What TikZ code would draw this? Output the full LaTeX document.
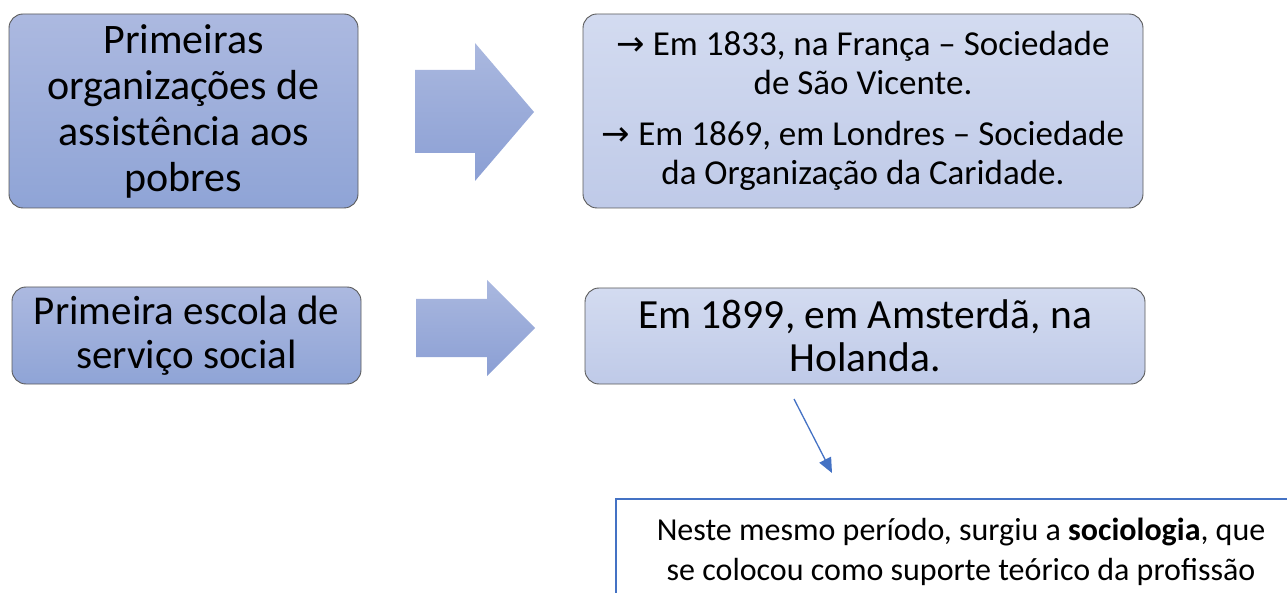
\documentclass[tikz,border=0pt]{standalone}
\usepackage{fontspec}
\setmainfont{Carlito}
\newfontfamily\symf{DejaVu Sans}
\usetikzlibrary{arrows.meta}
\definecolor{darkTop}{RGB}{172,185,224}
\definecolor{darkBot}{RGB}{143,164,214}
\definecolor{lightTop}{RGB}{211,219,240}
\definecolor{lightBot}{RGB}{191,202,232}
\definecolor{arrTop}{RGB}{170,184,223}
\definecolor{arrBot}{RGB}{139,159,212}
\definecolor{boxLine}{RGB}{90,90,90}
\definecolor{accent}{RGB}{68,114,196}
\tikzset{
  darkbox/.style={draw=boxLine, line width=0.9pt, rounded corners=14pt, top color=darkTop, bottom color=darkBot, align=center, inner sep=0pt},
  lightbox/.style={draw=boxLine, line width=0.9pt, rounded corners=14pt, top color=lightTop, bottom color=lightBot, align=center, inner sep=0pt},
  blockarrow/.style={top color=arrTop, bottom color=arrBot, draw=none},
  notebox/.style={draw=accent, line width=2.8pt, fill=white, align=center, inner sep=0pt},
  thinarrow/.style={draw=accent, line width=1.3pt, -{Triangle[length=15pt,width=13pt]}}
}
\newcommand{\arr}{{\symf\fontsize{34pt}{34pt}\selectfont →}}
\begin{document}
\begin{tikzpicture}[x=1pt,y=-1pt]
\useasboundingbox (0,0) rectangle (1287,593);
\clip (0,0) rectangle (1287,593);

\node[darkbox, minimum width=349pt, minimum height=194pt, font=\fontsize{42pt}{46pt}\selectfont] (b1) at (183.5,111)
  {Primeiras\\organizações de\\assistência aos\\pobres};

\path[blockarrow] (415,70) -- (475,70) -- (475,43) -- (534,112) -- (475,181) -- (475,153) -- (415,153) -- cycle;

\node[lightbox, minimum width=560pt, minimum height=194pt, font=\fontsize{35pt}{39pt}\selectfont] (b2) at (863,111)
  {\arr\ Em 1833, na França – Sociedade\\de São Vicente.\\[12pt]\arr\ Em 1869, em Londres – Sociedade\\da Organização da Caridade.};

\node[darkbox, minimum width=349pt, minimum height=97pt, font=\fontsize{41pt}{44pt}\selectfont] (b3) at (186.5,335.5)
  {Primeira escola de\\serviço social};

\path[blockarrow] (416,299) -- (487,299) -- (487,280) -- (535,328) -- (487,376) -- (487,357) -- (416,357) -- cycle;

\node[lightbox, minimum width=560pt, minimum height=96pt, font=\fontsize{41.5pt}{43pt}\selectfont] (b4) at (865,336)
  {Em 1899, em Amsterdã, na\\Holanda.};

\node[notebox, minimum width=690pt, minimum height=106pt, font=\fontsize{32pt}{40pt}\selectfont] (b5) at (961,552)
  {Neste mesmo período, surgiu a \textbf{sociologia}, que\\se colocou como suporte teórico da profissão};

\coordinate (c1) at (794,399);
\coordinate (c2) at (832,473);
\draw[thinarrow] (c1) -- (c2);
\end{tikzpicture}
\end{document}
